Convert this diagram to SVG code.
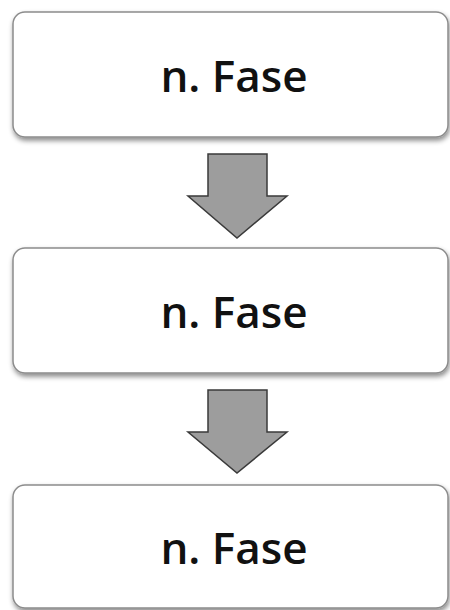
<svg xmlns="http://www.w3.org/2000/svg" width="450" height="610" viewBox="0 0 450 610">
<defs>
<filter id="sh" x="-10%" y="-20%" width="120%" height="150%">
<feDropShadow dx="1" dy="3" stdDeviation="2.5" flood-color="#000" flood-opacity="0.45"/>
</filter>
<style>
.box{fill:#fff;stroke:#8c8c8c;stroke-width:1.5;filter:url(#sh)}
.lbl{font-family:"Open Sans","Noto Sans",sans-serif;font-weight:600;font-size:44px;fill:#111;text-anchor:middle}
.arr{fill:#9d9d9d;stroke:#3a3a3a;stroke-width:1.5;stroke-linejoin:miter}
</style>
</defs>
<rect width="450" height="610" fill="#fff"/>
<g id="node1"><rect class="box" x="13" y="12" width="435" height="125" rx="12"/><text class="lbl" x="234" y="92">n. Fase</text></g>
<g id="node2"><rect class="box" x="13" y="248" width="435" height="125" rx="12"/><text class="lbl" x="234" y="328">n. Fase</text></g>
<g id="node3"><rect class="box" x="13" y="485" width="435" height="123" rx="12"/><text class="lbl" x="234" y="564">n. Fase</text></g>
<g id="connectors">
<polygon class="arr" points="208,154 267,154 267,196 287,196 237,238 188,196 208,196"/>
<polygon class="arr" points="208,390 267,390 267,432 287,432 237,473 188,432 208,432"/>
</g>
</svg>
